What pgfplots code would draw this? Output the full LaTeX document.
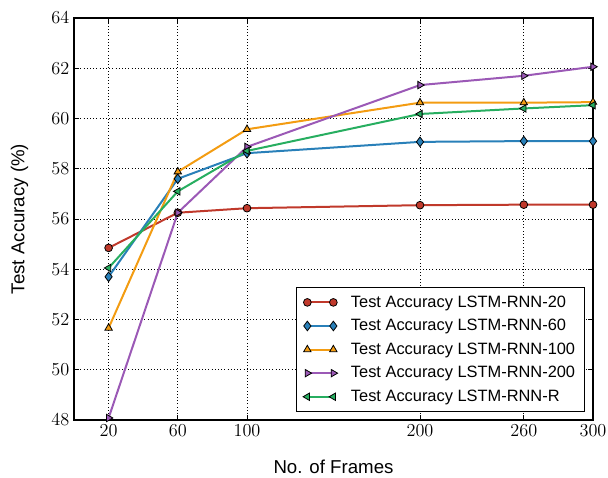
\RequirePackage{fix-cm}
\documentclass[border=0pt]{standalone}
\usepackage{fontspec}
\setmainfont{Liberation Sans}
\usepackage{pgfplots}
\pgfplotsset{compat=1.18}
\definecolor{cred}{RGB}{192,57,43}
\definecolor{cblue}{RGB}{41,128,185}
\definecolor{corange}{RGB}{243,156,18}
\definecolor{cpurple}{RGB}{155,89,182}
\definecolor{cgreen}{RGB}{39,174,96}
\begin{document}
\begin{tikzpicture}
\begin{axis}[
  scale only axis,
  width=389.25pt, height=301.5pt,
  xmin=0, xmax=300, ymin=48, ymax=64,
  xtick={20,60,100,200,260,300},
  ytick={48,50,52,54,56,58,60,62,64},
  tick label style={font=\fontsize{13.7}{16}\selectfont},
  label style={font=\fontsize{14}{16}\selectfont},
  xlabel={No. of Frames},
  ylabel={Test Accuracy (\%)},
  xlabel style={at={(axis description cs:0.5,-0.117)}, anchor=center},
  ylabel style={at={(axis description cs:-0.105,0.5)}, anchor=center},
  grid=major,
  major grid style={dotted, black, line width=0.7pt},
  axis line style={line width=0.9pt, black},
  tick style={black, line width=0.7pt},
  major tick length=4pt,
  every axis plot/.append style={line width=1.5pt},
  legend style={at={(axis description cs:1,0)}, anchor=south east, xshift=-6pt, yshift=6pt,
    font=\fontsize{12.3}{14}\selectfont, draw=black, line width=0.8pt, row sep=3.6pt,
    inner xsep=5pt, inner ysep=4pt},
  legend cell align=left,
  /tikz/every odd column/.append style={column sep=8pt},
  legend image code/.code={\draw[mark repeat=1,mark phase=1,#1] plot coordinates {(0pt,0pt) (19.5pt,0pt)};},
]
\addplot[color=cred, mark=*, mark size=2.9pt, mark options={draw=black, fill=cred, line width=0.6pt}]
  coordinates {(20,54.85) (60,56.25) (100,56.43) (200,56.55) (260,56.57) (300,56.57)};
\addlegendentry{Test Accuracy LSTM-RNN-20}
\addplot[color=cblue, mark=diamond*, mark size=3.6pt, mark options={draw=black, fill=cblue, line width=0.6pt}]
  coordinates {(20,53.7) (60,57.6) (100,58.62) (200,59.07) (260,59.1) (300,59.1)};
\addlegendentry{Test Accuracy LSTM-RNN-60}
\addplot[color=corange, mark=triangle*, mark size=3.2pt, mark options={draw=black, fill=corange, line width=0.6pt}]
  coordinates {(20,51.66) (60,57.88) (100,59.57) (200,60.63) (260,60.63) (300,60.65)};
\addlegendentry{Test Accuracy LSTM-RNN-100}
\addplot[color=cpurple, mark=triangle*, mark size=3.2pt, mark options={draw=black, fill=cpurple, line width=0.6pt, rotate=-90}]
  coordinates {(20,48.08) (60,56.25) (100,58.87) (200,61.33) (260,61.7) (300,62.06)};
\addlegendentry{Test Accuracy LSTM-RNN-200}
\addplot[color=cgreen, mark=triangle*, mark size=3.2pt, mark options={draw=black, fill=cgreen, line width=0.6pt, rotate=90}]
  coordinates {(20,54.05) (60,57.1) (100,58.71) (200,60.18) (260,60.4) (300,60.53)};
\addlegendentry{Test Accuracy LSTM-RNN-R}
\end{axis}
\pgfresetboundingbox
\path[use as bounding box] ([xshift=-55.5pt,yshift=-42.75pt]current axis.south west) rectangle ([xshift=11.25pt,yshift=13.5pt]current axis.north east);
\end{tikzpicture}
\end{document}
